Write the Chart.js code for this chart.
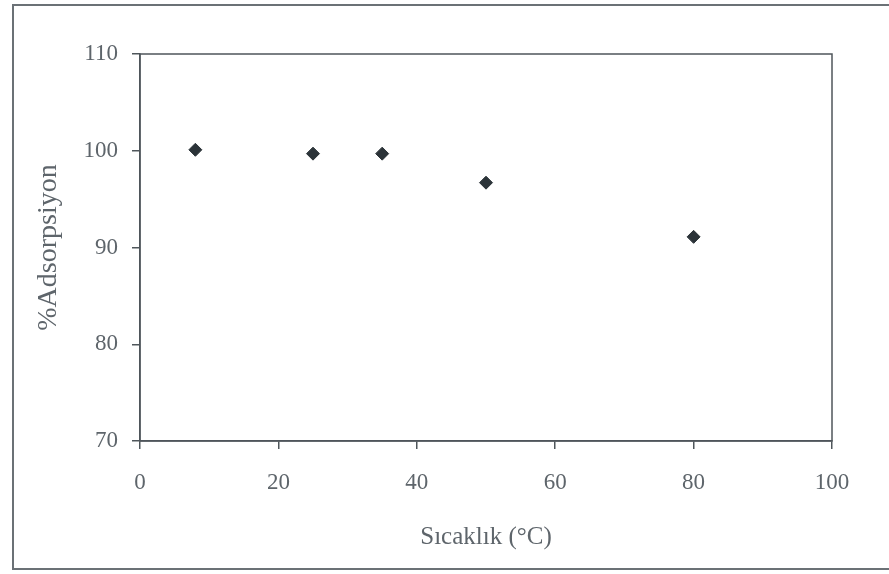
<!DOCTYPE html>
<html lang="tr">
<head>
<meta charset="utf-8">
<title>%Adsorpsiyon - Sıcaklık</title>
<script src="https://cdn.jsdelivr.net/npm/chart.js@4/dist/chart.umd.min.js"></script>
<style>
  html, body { margin: 0; padding: 0; background: #fff; }
  #wrap { position: relative; width: 889px; height: 574px; overflow: hidden; }
  #frame {
    position: absolute; left: 12px; top: 4px; width: 900px; height: 566px;
    border: 2px solid #6b7176; box-sizing: border-box;
  }
  #chart { position: absolute; left: 0; top: 0; }
</style>
</head>
<body>
<div id="wrap">
  <div id="frame"></div>
  <canvas id="chart" width="889" height="574"></canvas>
</div>
<script>
  // ── 데이터 ──────────────────────────────────────────────
  const sicaklik = [8, 25, 35, 50, 80];          // °C
  const adsorpsiyon = [100.1, 99.7, 99.7, 96.7, 91.1]; // %
  const xTicks = [0, 20, 40, 60, 80, 100];
  const yTicks = [70, 80, 90, 100, 110];

  const textColor = '#5e656b';
  const lineColor = '#4f565b';
  const serif = "'Liberation Serif', 'DejaVu Serif', serif";

  // 플롯 영역 테두리 (위/오른쪽 포함)
  const boxPlugin = {
    id: 'plotBox',
    afterDraw(chart) {
      const { ctx, chartArea: a } = chart;
      ctx.save();
      ctx.strokeStyle = lineColor;
      ctx.lineWidth = 1.5;
      ctx.strokeRect(a.left, a.top, a.right - a.left, a.bottom - a.top);
      ctx.restore();
    }
  };

  new Chart(document.getElementById('chart'), {
    type: 'scatter',
    data: {
      datasets: [{
        data: sicaklik.map((x, i) => ({ x, y: adsorpsiyon[i] })),
        pointStyle: 'rectRot',
        radius: 6.5,
        backgroundColor: '#2b3338',
        borderColor: '#2b3338',
        borderWidth: 1
      }]
    },
    options: {
      responsive: false,
      animation: false,
      layout: { padding: { top: 54, right: 57, left: 0, bottom: 0 } },
      plugins: { legend: { display: false }, tooltip: { enabled: false } },
      scales: {
        x: {
          type: 'linear', min: 0, max: 100,
          afterBuildTicks: (s) => { s.ticks = xTicks.map(v => ({ value: v })); },
          afterFit: (s) => { s.height = 133; },
          grid: { drawOnChartArea: false, tickLength: 8, color: lineColor, lineWidth: 1.5 },
          border: { color: lineColor, width: 1.5 },
          ticks: { color: textColor, font: { family: serif, size: 23 }, padding: 20, maxRotation: 0 },
          title: {
            display: true, text: 'Sıcaklık (°C)', color: textColor,
            font: { family: serif, size: 25 }, padding: { bottom: 22 }
          }
        },
        y: {
          type: 'linear', min: 70, max: 110,
          afterBuildTicks: (s) => { s.ticks = yTicks.map(v => ({ value: v })); },
          afterFit: (s) => { s.width = 140; },
          grid: { drawOnChartArea: false, tickLength: 8, color: lineColor, lineWidth: 1.5 },
          border: { color: lineColor, width: 1.5 },
          ticks: { color: textColor, font: { family: serif, size: 23 }, padding: 14 },
          title: {
            display: true, text: '%Adsorpsiyon', color: textColor,
            font: { family: serif, size: 28 }, padding: { top: 32 }
          }
        }
      }
    },
    plugins: [boxPlugin]
  });
</script>
</body>
</html>
